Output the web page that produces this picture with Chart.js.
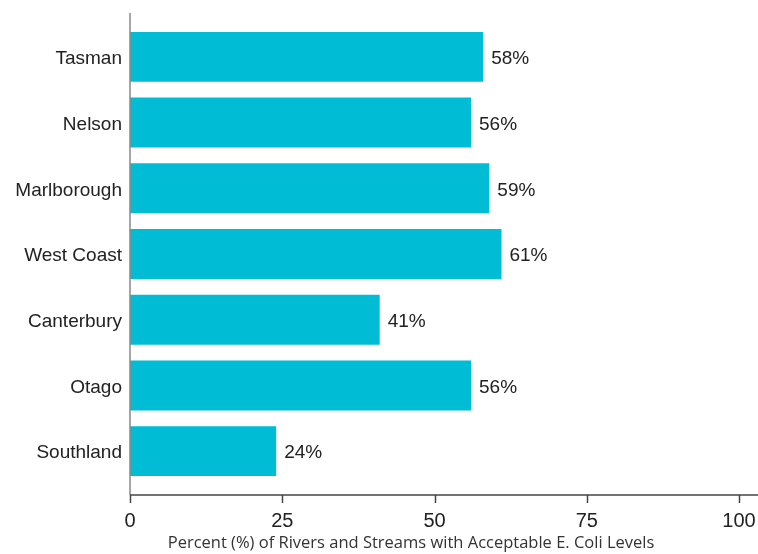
<!DOCTYPE html>
<html>
<head>
<meta charset="utf-8">
<script src="https://cdn.jsdelivr.net/npm/chart.js@4"></script>
<style>
  html, body { margin: 0; padding: 0; background: #fff; }
  #wrap { width: 758px; height: 554px; }
</style>
</head>
<body>
<div id="wrap"><canvas id="chart" width="758" height="554"></canvas></div>
<script>
// Chart data
const regions = ['Tasman', 'Nelson', 'Marlborough', 'West Coast', 'Canterbury', 'Otago', 'Southland'];
const percentValues = [58, 56, 59, 61, 41, 56, 24];
const xTickValues = [0, 25, 50, 75, 100];
const xAxisTitle = 'Percent (%) of Rivers and Streams with Acceptable E. Coli Levels';

const barColor = '#00bcd4';
const textColor = '#222';

// Value labels at the end of each bar
const valueLabels = {
    id: 'valueLabels',
    afterDatasetsDraw(chart) {
        const ctx = chart.ctx;
        const meta = chart.getDatasetMeta(0);
        ctx.save();
        ctx.font = '19px "Liberation Sans", Arial, sans-serif';
        ctx.fillStyle = textColor;
        ctx.textAlign = 'left';
        ctx.textBaseline = 'middle';
        meta.data.forEach(function(bar, i) {
            ctx.fillText(percentValues[i] + '%', bar.x + 8, bar.y + 2);
        });
        ctx.restore();
    }
};

// Axis lines drawn a bit outside the category band, like the original,
// plus the x axis title (it sits left of the plot centre in the original)
const axisLines = {
    id: 'axisLines',
    afterDraw(chart) {
        const ctx = chart.ctx;
        const area = chart.chartArea;
        const xScale = chart.scales.x;
        const axisY = area.bottom + 11;
        ctx.save();
        // vertical axis
        ctx.strokeStyle = '#888';
        ctx.lineWidth = 1.5;
        ctx.beginPath();
        ctx.moveTo(area.left, area.top - 11);
        ctx.lineTo(area.left, axisY);
        ctx.stroke();
        // horizontal axis
        ctx.strokeStyle = '#444';
        ctx.beginPath();
        ctx.moveTo(area.left, axisY);
        ctx.lineTo(chart.width, axisY);
        ctx.stroke();
        // tick marks
        xTickValues.forEach(function(v) {
            const x = Math.round(xScale.getPixelForValue(v)) + 0.5;
            ctx.beginPath();
            ctx.moveTo(x, axisY);
            ctx.lineTo(x, axisY + 8);
            ctx.stroke();
        });
        // axis title
        ctx.font = '16.5px "Open Sans", Lato, sans-serif';
        ctx.fillStyle = '#333';
        ctx.textAlign = 'center';
        ctx.textBaseline = 'middle';
        ctx.fillText(xAxisTitle, 411, 543);
        ctx.restore();
    }
};

new Chart(document.getElementById('chart').getContext('2d'), {
    type: 'bar',
    data: {
        labels: regions,
        datasets: [{
            data: percentValues,
            backgroundColor: barColor,
            borderWidth: 0,
            categoryPercentage: 1,
            barPercentage: 0.76
        }]
    },
    options: {
        indexAxis: 'y',
        responsive: false,
        animation: false,
        layout: {
            padding: { top: 24, right: 19, left: 0, bottom: 0 }
        },
        plugins: {
            legend: { display: false },
            tooltip: { enabled: false }
        },
        scales: {
            y: {
                grid: { display: false, drawTicks: false, tickLength: 0 },
                border: { display: false },
                ticks: {
                    color: textColor,
                    padding: 8,
                    labelOffset: 2,
                    font: { family: '"Liberation Sans", Arial, sans-serif', size: 19 }
                },
                afterFit(scale) { scale.width = 130; }
            },
            x: {
                min: 0,
                max: 100,
                grid: { display: false, drawTicks: false, tickLength: 0 },
                border: { display: false },
                afterBuildTicks(scale) {
                    scale.ticks = xTickValues.map(function(v) { return { value: v }; });
                },
                ticks: {
                    color: textColor,
                    padding: 25,
                    font: { family: '"Liberation Sans", Arial, sans-serif', size: 20 }
                },
                afterFit(scale) {
                    scale.height = 70;
                    scale.paddingLeft = 0;
                    scale.paddingRight = 0;
                }
            }
        }
    },
    plugins: [valueLabels, axisLines]
});
</script>
</body>
</html>
